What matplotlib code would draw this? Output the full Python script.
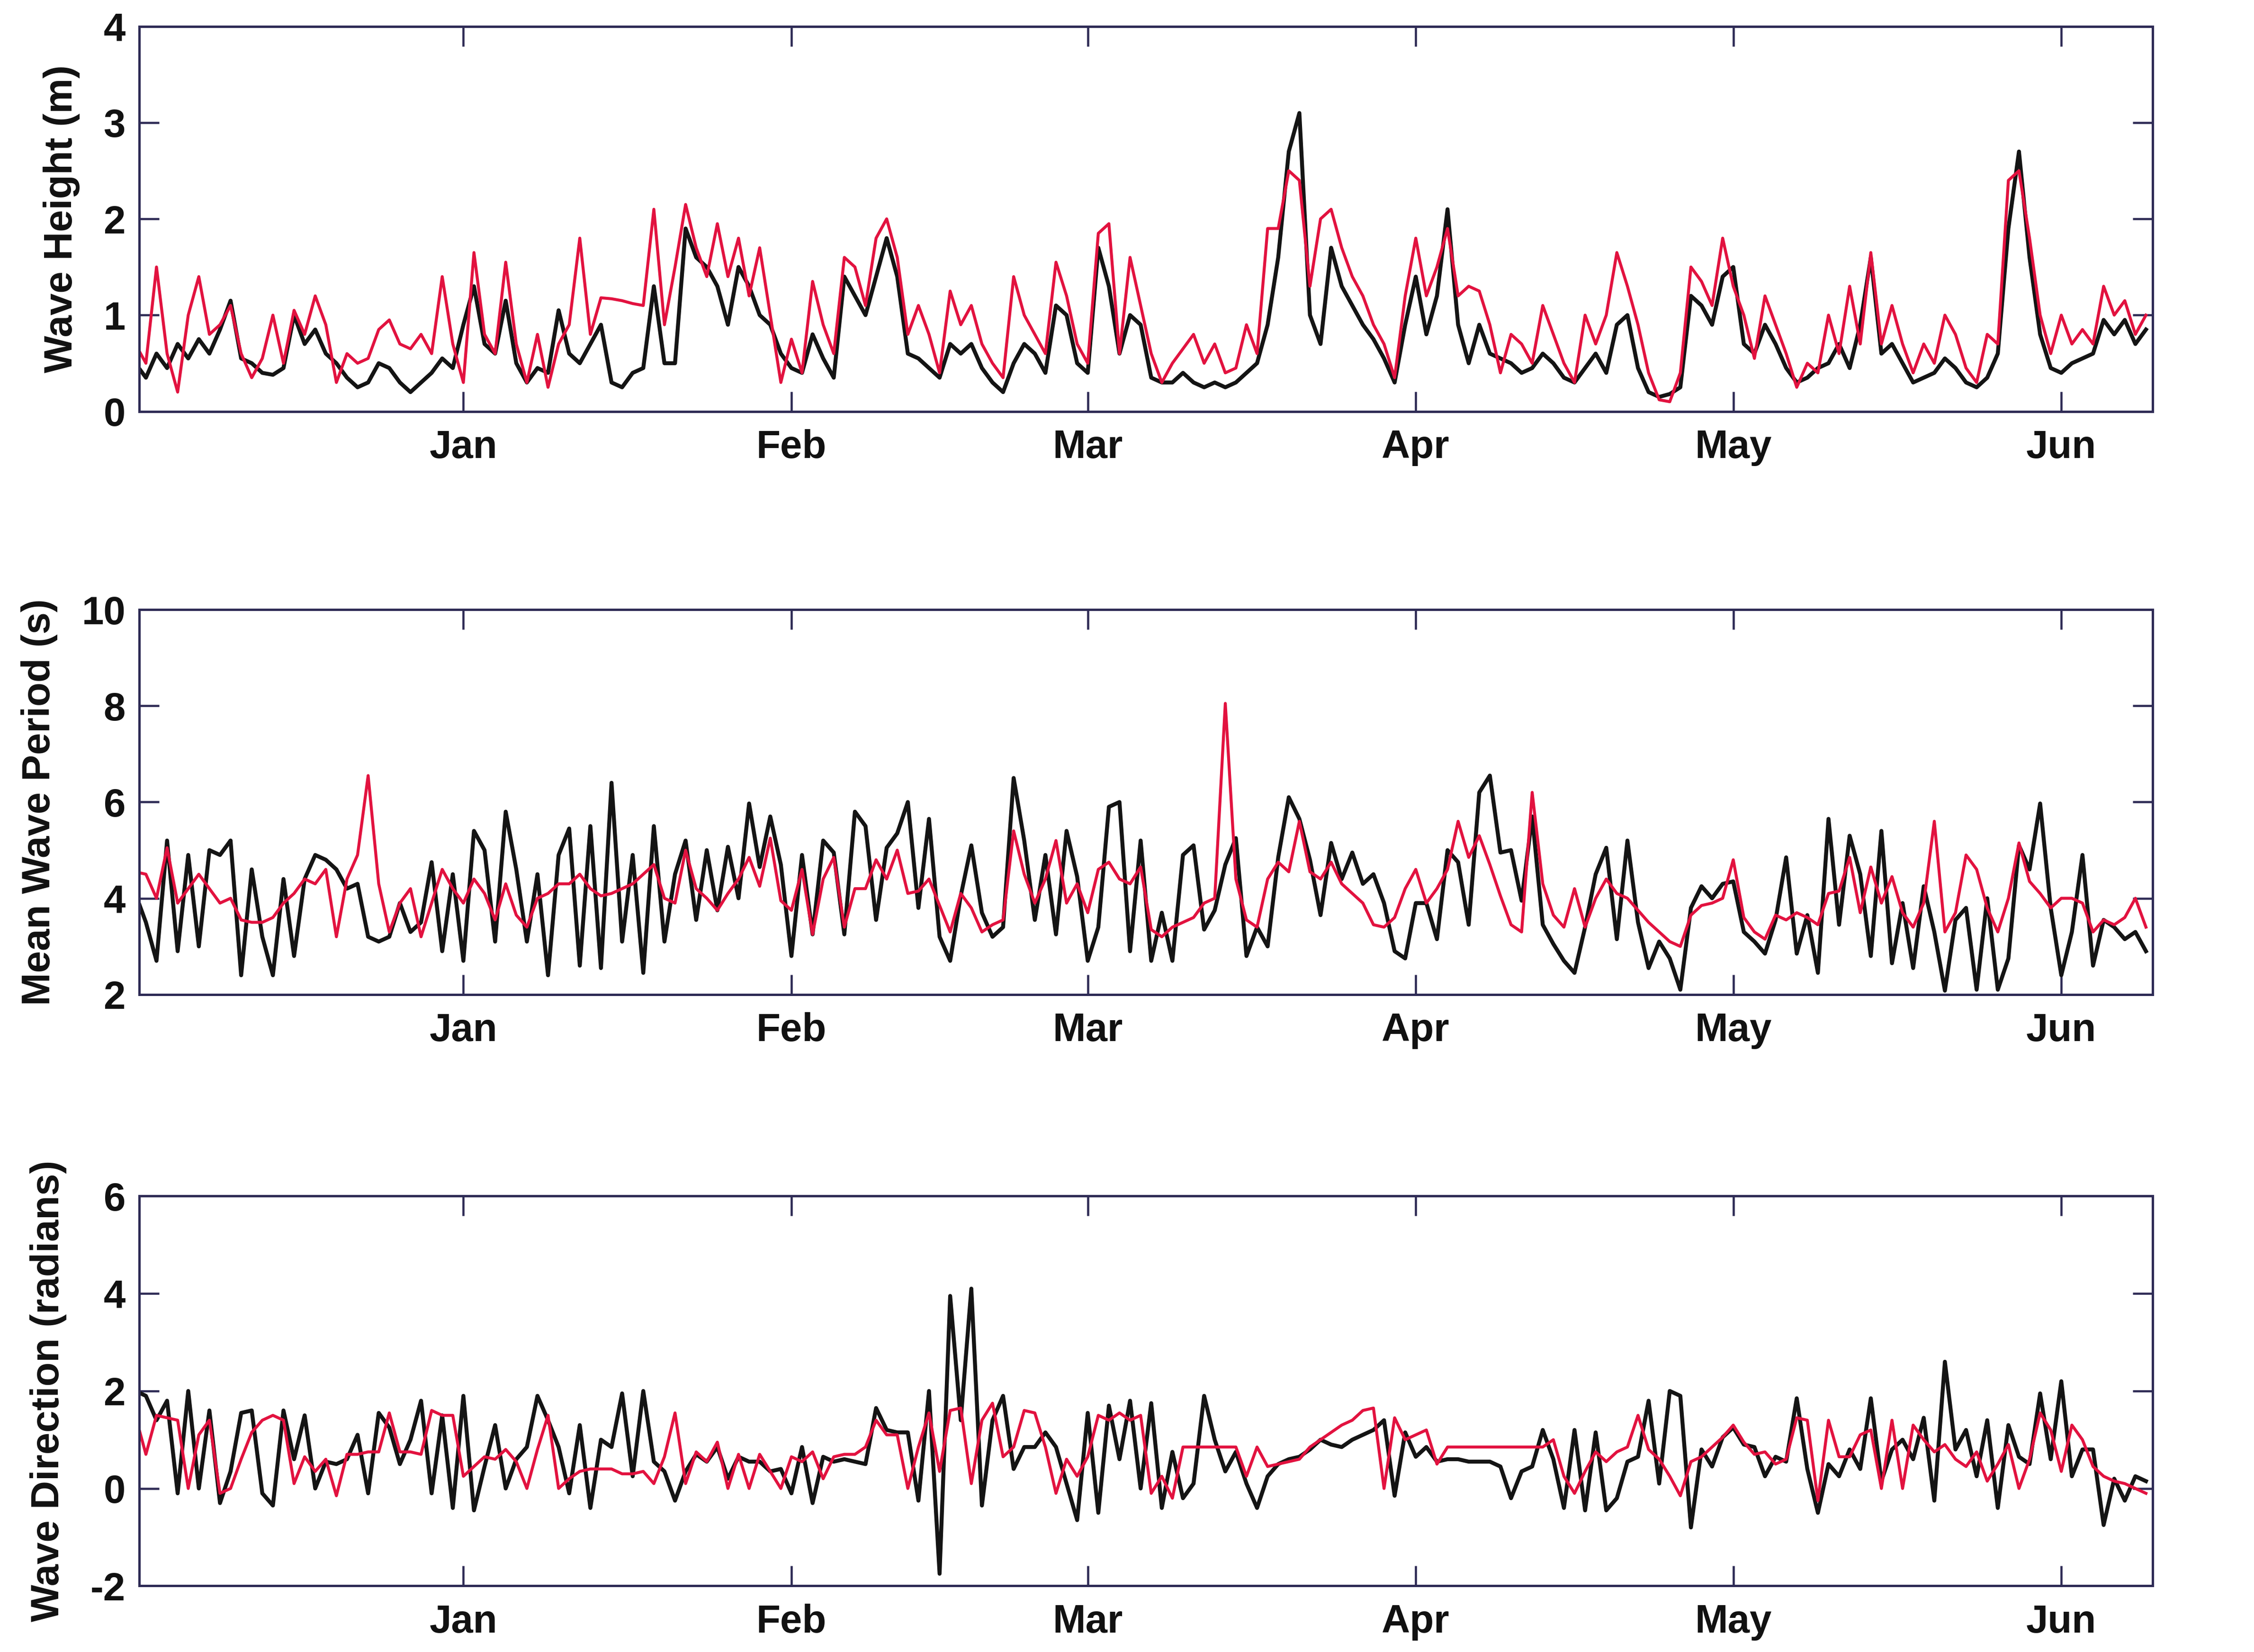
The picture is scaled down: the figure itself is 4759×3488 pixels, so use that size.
import matplotlib
matplotlib.use('Agg')

import matplotlib.pyplot as plt
import matplotlib.dates as mdates
import pandas as pd

plt.rcParams['font.family'] = ['Liberation Sans', 'DejaVu Sans']
plt.rcParams['axes.unicode_minus'] = False

# daily values, 1 Dec 2008 .. 9 Jun 2009
dates = pd.date_range('2008-12-01', periods=191, freq='D')

height_obs = [
    0.50, 0.35, 0.60, 0.45, 0.70, 0.55, 0.75, 0.60, 0.85, 1.15,
    0.55, 0.50, 0.40, 0.38, 0.45, 1.00, 0.70, 0.85, 0.60, 0.50,
    0.35, 0.25, 0.30, 0.50, 0.45, 0.30, 0.20, 0.30, 0.40, 0.55,
    0.45, 0.90, 1.30, 0.70, 0.60, 1.15, 0.50, 0.30, 0.45, 0.40,
    1.05, 0.60, 0.50, 0.70, 0.90, 0.30, 0.25, 0.40, 0.45, 1.30,
    0.50, 0.50, 1.90, 1.60, 1.50, 1.30, 0.90, 1.50, 1.30, 1.00,
    0.90, 0.60, 0.45, 0.40, 0.80, 0.55, 0.35, 1.40, 1.20, 1.00,
    1.40, 1.80, 1.40, 0.60, 0.55, 0.45, 0.35, 0.70, 0.60, 0.70,
    0.45, 0.30, 0.20, 0.50, 0.70, 0.60, 0.40, 1.10, 1.00, 0.50,
    0.40, 1.70, 1.30, 0.60, 1.00, 0.90, 0.35, 0.30, 0.30, 0.40,
    0.30, 0.25, 0.30, 0.25, 0.30, 0.40, 0.50, 0.90, 1.60, 2.70,
    3.10, 1.00, 0.70, 1.70, 1.30, 1.10, 0.90, 0.75, 0.55, 0.30,
    0.90, 1.40, 0.80, 1.20, 2.10, 0.90, 0.50, 0.90, 0.60, 0.55,
    0.50, 0.40, 0.45, 0.60, 0.50, 0.35, 0.30, 0.45, 0.60, 0.40,
    0.90, 1.00, 0.45, 0.20, 0.15, 0.18, 0.25, 1.20, 1.10, 0.90,
    1.40, 1.50, 0.70, 0.60, 0.90, 0.70, 0.45, 0.30, 0.35, 0.45,
    0.50, 0.70, 0.45, 0.90, 1.60, 0.60, 0.70, 0.50, 0.30, 0.35,
    0.40, 0.55, 0.45, 0.30, 0.25, 0.35, 0.60, 1.90, 2.70, 1.60,
    0.80, 0.45, 0.40, 0.50, 0.55, 0.60, 0.95, 0.80, 0.95, 0.70,
    0.85]
height_mod = [
    0.70, 0.50, 1.50, 0.60, 0.20, 1.00, 1.40, 0.80, 0.90, 1.10,
    0.60, 0.35, 0.55, 1.00, 0.50, 1.05, 0.80, 1.20, 0.90, 0.30,
    0.60, 0.50, 0.55, 0.85, 0.95, 0.70, 0.65, 0.80, 0.60, 1.40,
    0.70, 0.30, 1.65, 0.80, 0.60, 1.55, 0.70, 0.30, 0.80, 0.25,
    0.70, 0.90, 1.80, 0.80, 1.18, 1.17, 1.15, 1.12, 1.10, 2.10,
    0.90, 1.50, 2.15, 1.70, 1.40, 1.95, 1.40, 1.80, 1.20, 1.70,
    1.00, 0.30, 0.75, 0.40, 1.35, 0.90, 0.60, 1.60, 1.50, 1.10,
    1.80, 2.00, 1.60, 0.80, 1.10, 0.80, 0.40, 1.25, 0.90, 1.10,
    0.70, 0.50, 0.35, 1.40, 1.00, 0.80, 0.60, 1.55, 1.20, 0.70,
    0.50, 1.85, 1.95, 0.60, 1.60, 1.10, 0.60, 0.30, 0.50, 0.65,
    0.80, 0.50, 0.70, 0.40, 0.45, 0.90, 0.60, 1.90, 1.90, 2.50,
    2.40, 1.30, 2.00, 2.10, 1.70, 1.40, 1.20, 0.90, 0.70, 0.35,
    1.20, 1.80, 1.20, 1.50, 1.90, 1.20, 1.30, 1.25, 0.90, 0.40,
    0.80, 0.70, 0.50, 1.10, 0.80, 0.50, 0.30, 1.00, 0.70, 1.00,
    1.65, 1.30, 0.90, 0.40, 0.12, 0.10, 0.40, 1.50, 1.35, 1.10,
    1.80, 1.30, 1.00, 0.55, 1.20, 0.90, 0.60, 0.25, 0.50, 0.40,
    1.00, 0.60, 1.30, 0.70, 1.65, 0.70, 1.10, 0.70, 0.40, 0.70,
    0.50, 1.00, 0.80, 0.45, 0.30, 0.80, 0.70, 2.40, 2.50, 1.80,
    1.00, 0.60, 1.00, 0.70, 0.85, 0.70, 1.30, 1.00, 1.15, 0.80,
    1.00]

period_obs = [
    4.10, 3.50, 2.70, 5.20, 2.90, 4.90, 3.00, 5.00, 4.90, 5.20,
    2.40, 4.60, 3.20, 2.40, 4.40, 2.80, 4.40, 4.90, 4.80, 4.60,
    4.20, 4.30, 3.20, 3.10, 3.20, 3.90, 3.30, 3.50, 4.75, 2.90,
    4.50, 2.70, 5.40, 5.00, 3.10, 5.80, 4.60, 3.10, 4.50, 2.40,
    4.90, 5.45, 2.60, 5.50, 2.55, 6.40, 3.10, 4.90, 2.45, 5.50,
    3.10, 4.50, 5.20, 3.55, 5.00, 3.75, 5.07, 4.00, 5.97, 4.65,
    5.70, 4.70, 2.80, 4.90, 3.25, 5.20, 4.95, 3.25, 5.80, 5.50,
    3.55, 5.05, 5.35, 6.00, 3.80, 5.65, 3.20, 2.70, 4.05, 5.10,
    3.70, 3.20, 3.40, 6.50, 5.20, 3.55, 4.90, 3.25, 5.40, 4.45,
    2.70, 3.40, 5.90, 6.00, 2.90, 5.20, 2.70, 3.70, 2.70, 4.90,
    5.10, 3.35, 3.75, 4.70, 5.25, 2.80, 3.40, 3.00, 4.85, 6.10,
    5.65, 4.80, 3.65, 5.15, 4.40, 4.95, 4.30, 4.50, 3.90, 2.90,
    2.75, 3.90, 3.90, 3.15, 5.00, 4.75, 3.45, 6.20, 6.55, 4.95,
    5.00, 3.95, 5.70, 3.45, 3.05, 2.70, 2.45, 3.40, 4.50, 5.05,
    3.15, 5.20, 3.50, 2.55, 3.10, 2.75, 2.10, 3.80, 4.25, 4.00,
    4.30, 4.35, 3.30, 3.10, 2.85, 3.55, 4.85, 2.85, 3.65, 2.45,
    5.65, 3.45, 5.30, 4.50, 2.80, 5.40, 2.65, 3.90, 2.55, 4.25,
    3.30, 2.08, 3.55, 3.80, 2.10, 4.00, 2.10, 2.75, 5.10, 4.60,
    5.97, 3.80, 2.40, 3.30, 4.90, 2.60, 3.55, 3.40, 3.15, 3.30,
    2.90]
period_mod = [
    4.55, 4.50, 4.00, 5.05, 3.90, 4.20, 4.50, 4.20, 3.90, 4.00,
    3.55, 3.50, 3.50, 3.60, 3.90, 4.10, 4.40, 4.30, 4.60, 3.20,
    4.40, 4.90, 6.55, 4.30, 3.30, 3.90, 4.20, 3.20, 3.90, 4.60,
    4.20, 3.90, 4.40, 4.10, 3.55, 4.30, 3.65, 3.40, 4.00, 4.10,
    4.30, 4.30, 4.50, 4.20, 4.05, 4.10, 4.20, 4.30, 4.50, 4.70,
    4.00, 3.90, 5.00, 4.20, 4.00, 3.75, 4.10, 4.40, 4.85, 4.25,
    5.25, 3.95, 3.75, 4.60, 3.25, 4.40, 4.85, 3.40, 4.20, 4.20,
    4.80, 4.40, 5.00, 4.10, 4.15, 4.40, 3.85, 3.30, 4.10, 3.80,
    3.30, 3.45, 3.55, 5.40, 4.50, 3.90, 4.40, 5.20, 3.90, 4.30,
    3.70, 4.60, 4.75, 4.40, 4.30, 4.65, 3.35, 3.20, 3.40, 3.50,
    3.60, 3.90, 4.00, 8.05, 4.40, 3.55, 3.40, 4.40, 4.75, 4.55,
    5.60, 4.55, 4.40, 4.75, 4.30, 4.10, 3.90, 3.45, 3.40, 3.60,
    4.20, 4.60, 3.90, 4.20, 4.60, 5.60, 4.85, 5.30, 4.70, 4.05,
    3.45, 3.30, 6.20, 4.30, 3.65, 3.40, 4.20, 3.40, 4.00, 4.40,
    4.10, 4.00, 3.75, 3.50, 3.30, 3.10, 3.00, 3.65, 3.85, 3.90,
    4.00, 4.80, 3.60, 3.30, 3.15, 3.65, 3.55, 3.70, 3.60, 3.45,
    4.10, 4.15, 4.85, 3.70, 4.65, 3.90, 4.45, 3.70, 3.40, 3.90,
    5.60, 3.30, 3.70, 4.90, 4.60, 3.80, 3.30, 4.00, 5.15, 4.35,
    4.10, 3.80, 4.00, 4.00, 3.90, 3.30, 3.55, 3.45, 3.60, 4.00,
    3.40]

direction_obs = [
    2.00, 1.90, 1.40, 1.80, -0.10, 2.00, 0.00, 1.60, -0.30, 0.35,
    1.55, 1.60, -0.10, -0.35, 1.60, 0.60, 1.50, 0.00, 0.55, 0.50,
    0.60, 1.10, -0.10, 1.55, 1.25, 0.50, 1.00, 1.80, -0.10, 1.50,
    -0.40, 1.90, -0.45, 0.45, 1.30, 0.00, 0.60, 0.85, 1.90, 1.40,
    0.85, -0.10, 1.30, -0.40, 1.00, 0.85, 1.95, 0.25, 2.00, 0.55,
    0.35, -0.25, 0.35, 0.70, 0.55, 0.85, 0.20, 0.65, 0.55, 0.55,
    0.35, 0.40, -0.10, 0.85, -0.30, 0.65, 0.55, 0.60, 0.55, 0.50,
    1.65, 1.20, 1.15, 1.15, -0.25, 2.00, -1.75, 3.95, 1.40, 4.10,
    -0.35, 1.40, 1.90, 0.40, 0.85, 0.85, 1.15, 0.85, 0.10, -0.65,
    1.55, -0.50, 1.70, 0.60, 1.80, 0.00, 1.75, -0.40, 0.75, -0.20,
    0.10, 1.90, 1.00, 0.35, 0.75, 0.10, -0.40, 0.25, 0.50, 0.60,
    0.65, 0.80, 1.00, 0.90, 0.85, 1.00, 1.10, 1.20, 1.40, -0.15,
    1.15, 0.65, 0.85, 0.55, 0.60, 0.60, 0.55, 0.55, 0.55, 0.45,
    -0.20, 0.35, 0.45, 1.20, 0.60, -0.40, 1.20, -0.45, 1.15, -0.45,
    -0.20, 0.55, 0.65, 1.80, 0.10, 2.00, 1.90, -0.80, 0.80, 0.45,
    1.05, 1.25, 0.90, 0.85, 0.25, 0.65, 0.55, 1.85, 0.40, -0.50,
    0.50, 0.25, 0.80, 0.40, 1.85, 0.15, 0.80, 1.00, 0.60, 1.45,
    -0.25, 2.60, 0.80, 1.20, 0.25, 1.40, -0.40, 1.30, 0.65, 0.50,
    1.95, 0.60, 2.20, 0.25, 0.80, 0.80, -0.75, 0.20, -0.25, 0.25,
    0.15]
direction_mod = [
    1.50, 0.70, 1.50, 1.45, 1.40, 0.00, 1.10, 1.40, -0.10, 0.00,
    0.60, 1.15, 1.40, 1.50, 1.40, 0.10, 0.65, 0.35, 0.60, -0.15,
    0.70, 0.70, 0.75, 0.75, 1.55, 0.75, 0.75, 0.70, 1.60, 1.50,
    1.50, 0.25, 0.45, 0.65, 0.60, 0.80, 0.55, 0.00, 0.80, 1.50,
    0.00, 0.20, 0.35, 0.40, 0.40, 0.40, 0.30, 0.30, 0.35, 0.10,
    0.65, 1.55, 0.10, 0.75, 0.55, 0.95, 0.00, 0.70, 0.00, 0.70,
    0.35, 0.00, 0.65, 0.55, 0.75, 0.20, 0.65, 0.70, 0.70, 0.85,
    1.40, 1.10, 1.10, 0.00, 0.85, 1.55, 0.35, 1.60, 1.65, 0.10,
    1.40, 1.75, 0.65, 0.85, 1.60, 1.55, 0.85, -0.10, 0.60, 0.25,
    0.65, 1.50, 1.40, 1.55, 1.40, 1.50, -0.10, 0.25, -0.20, 0.85,
    0.85, 0.85, 0.85, 0.85, 0.85, 0.25, 0.85, 0.45, 0.50, 0.55,
    0.60, 0.85, 1.00, 1.15, 1.30, 1.40, 1.60, 1.65, 0.00, 1.45,
    1.00, 1.10, 1.20, 0.50, 0.85, 0.85, 0.85, 0.85, 0.85, 0.85,
    0.85, 0.85, 0.85, 0.85, 1.00, 0.25, -0.10, 0.35, 0.75, 0.55,
    0.75, 0.85, 1.50, 0.80, 0.60, 0.25, -0.15, 0.55, 0.65, 0.85,
    1.05, 1.30, 0.95, 0.70, 0.75, 0.50, 0.60, 1.45, 1.40, -0.25,
    1.40, 0.65, 0.65, 1.10, 1.20, 0.00, 1.40, 0.00, 1.30, 1.00,
    0.75, 0.90, 0.60, 0.45, 0.75, 0.15, 0.50, 0.90, 0.00, 0.60,
    1.55, 1.20, 0.35, 1.30, 1.00, 0.45, 0.25, 0.15, 0.10, 0.00,
    -0.10]

panels = [
    (height_obs, height_mod, 'Wave Height (m)', (0, 4), [0, 1, 2, 3, 4], 0.751, 0.233),
    (period_obs, period_mod, 'Mean Wave Period (s)', (2, 10), [2, 4, 6, 8, 10], 0.398, 0.233),
    (direction_obs, direction_mod, 'Wave Direction (radians)', (-2, 6), [-2, 0, 2, 4, 6], 0.040, 0.236),
]

axis_col = '#2e2b55'
black = '#141414'
red = '#e2123f'

fig = plt.figure(figsize=(4759 / 300, 3488 / 300), dpi=300)

for obs, mod, label, ylim, yticks, bottom, height in panels:
    ax = fig.add_axes([0.0618, bottom, 0.8932, height])
    ax.plot(dates, obs, color=black, lw=2.0)
    ax.plot(dates, mod, color=red, lw=1.5)

    ax.set_xlim(pd.Timestamp('2008-12-01 09:00'), pd.Timestamp('2009-06-09 15:00'))
    ax.set_ylim(*ylim)
    ax.set_yticks(yticks)
    ax.xaxis.set_major_locator(mdates.MonthLocator(bymonth=[1, 2, 3, 4, 5, 6]))
    ax.xaxis.set_major_formatter(mdates.DateFormatter('%b'))

    ax.tick_params(direction='in', top=True, right=True, length=10, width=1.1,
                   color=axis_col, labelsize=20, labelcolor='#111111')
    ax.tick_params(axis='x', pad=9)
    ax.tick_params(axis='y', pad=7)
    for lbl in ax.get_xticklabels() + ax.get_yticklabels():
        lbl.set_fontweight('bold')
    for sp in ax.spines.values():
        sp.set_color(axis_col)
        sp.set_linewidth(1.2)

    ax.set_ylabel(label, fontsize=20, fontweight='bold', color='#111111', labelpad=12)

plt.savefig('out.png', dpi=300)
plt.close()
